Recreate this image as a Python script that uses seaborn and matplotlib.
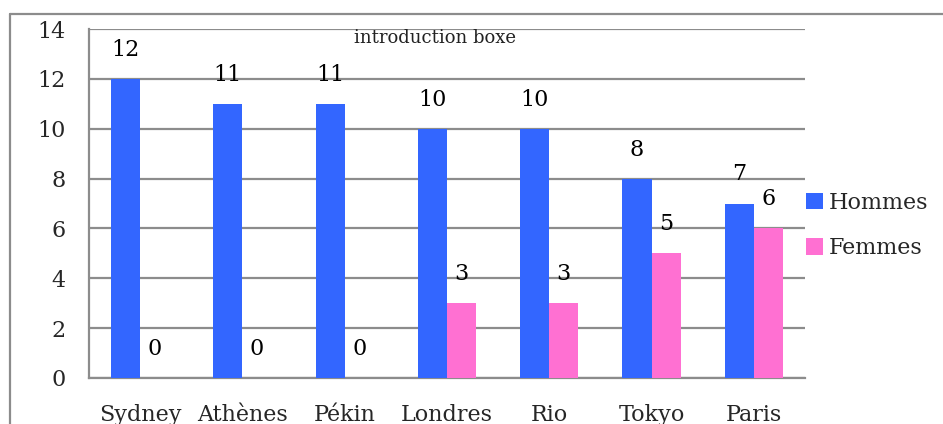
import matplotlib
matplotlib.use("Agg")
import matplotlib.pyplot as plt
import matplotlib.lines as mlines
import matplotlib.patches as mpatches
import pandas as pd
import seaborn as sns

villes = ["Sydney", "Athènes", "Pékin", "Londres", "Rio", "Tokyo", "Paris"]
hommes = [12, 11, 11, 10, 10, 8, 7]
femmes = [0, 0, 0, 3, 3, 5, 6]
series = ["Hommes", "Femmes"]
couleurs = ["#3366FF", "#FF70D2"]
y_ticks = [0, 2, 4, 6, 8, 10, 12, 14]

df = pd.DataFrame({
    "ville": villes * 2,
    "valeur": hommes + femmes,
    "sexe": [series[0]] * len(villes) + [series[1]] * len(villes),
})

sns.set_theme(style="white")
plt.rcParams["font.family"] = ["DejaVu Serif"]

fs = 16
grey = "#8c8c8c"
fig = plt.figure(figsize=(9.43, 4.24), dpi=100)
ax = fig.add_axes([89 / 943, 1 - 378 / 424, (805 - 89) / 943, (378 - 29) / 424])

sns.barplot(data=df, x="ville", y="valeur", hue="sexe", palette=couleurs,
            width=0.57, saturation=1, ax=ax, legend=False, zorder=3, linewidth=0)

for cont in ax.containers:
    ax.bar_label(cont, fmt="%g", padding=13, fontsize=fs, color="black")

ax.set_ylim(0, 14)
ax.set_xlim(-0.5, len(villes) - 0.5)
ax.set_yticks(y_ticks)
ax.set_yticklabels([str(t) for t in y_ticks], fontsize=fs)
ax.set_xticks(range(len(villes)))
ax.set_xticklabels(villes, fontsize=fs)
ax.set_xlabel("")
ax.set_ylabel("")

# category separators as tick marks below the axis
ax.set_xticks([i - 0.5 for i in range(len(villes) + 1)], minor=True)
ax.tick_params(axis="x", which="major", length=0, pad=19)
ax.tick_params(axis="x", which="minor", length=6, width=1.5, color=grey, direction="out")
ax.tick_params(axis="y", which="major", length=6, width=1.5, color=grey, direction="out", pad=11)

ax.yaxis.grid(True, color=grey, linewidth=1.6, zorder=0)
ax.set_axisbelow(True)
for side in ("top", "right"):
    ax.spines[side].set_visible(False)
for side in ("left", "bottom"):
    ax.spines[side].set_color(grey)
    ax.spines[side].set_linewidth(1.6)

ax.text(0.483, 1.0, "introduction boxe", transform=ax.transAxes,
        ha="center", va="top", fontsize=13, color="#222222")

handles = [mpatches.Patch(facecolor=c, edgecolor="none", label=s)
           for s, c in zip(series, couleurs)]
fig.legend(handles=handles, loc="upper left", bbox_to_anchor=(797 / 943, 1 - 183 / 424),
           frameon=False, fontsize=fs, handlelength=0.75, handleheight=0.75,
           handletextpad=0.3, labelspacing=1.05, borderaxespad=0)

# surrounding frame
fig.add_artist(mlines.Line2D([10 / 943, 10 / 943], [0, 1 - 14 / 424],
                             transform=fig.transFigure, color=grey, linewidth=1.6))
fig.add_artist(mlines.Line2D([10 / 943, 1], [1 - 14 / 424, 1 - 14 / 424],
                             transform=fig.transFigure, color=grey, linewidth=1.6))

fig.savefig("out.png", dpi=100, facecolor="white")
